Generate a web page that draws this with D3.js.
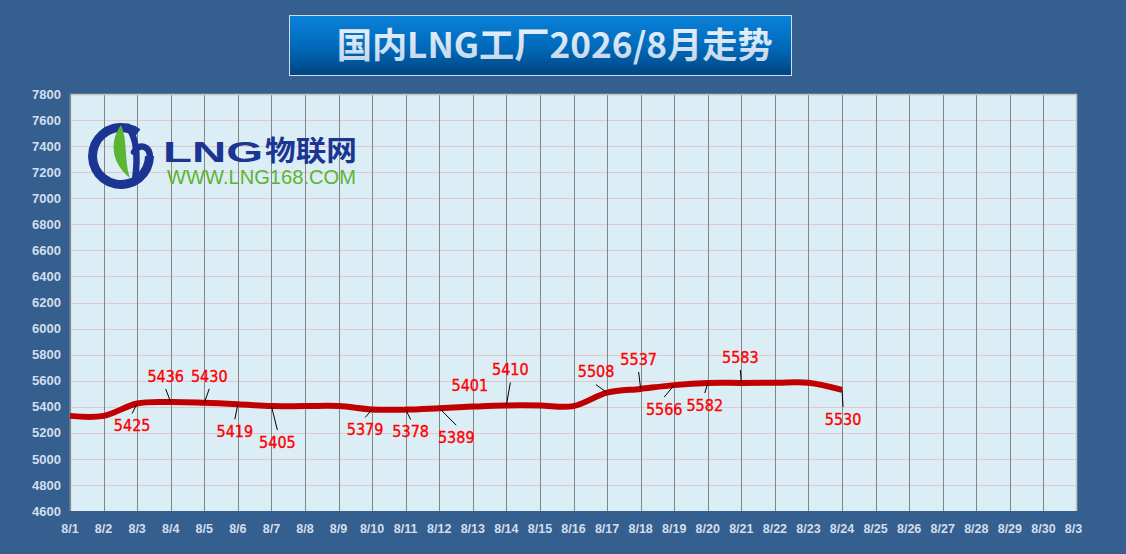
<!DOCTYPE html>
<html>
<head>
<meta charset="utf-8">
<script src="https://cdn.jsdelivr.net/npm/d3@7"></script>
<style>
  body { margin: 0; background: #355f8f; }
  svg { display: block; }
</style>
</head>
<body>
<svg id="chart" width="1126" height="554"></svg>
<script>
// ---- data ----
const dates = ["8/1","8/2","8/3","8/4","8/5","8/6","8/7","8/8","8/9","8/10",
  "8/11","8/12","8/13","8/14","8/15","8/16","8/17","8/18","8/19","8/20",
  "8/21","8/22","8/23","8/24","8/25","8/26","8/27","8/28","8/29","8/30","8/31"];
const prices = [5330, 5330, 5425, 5436, 5430, 5419, 5405, 5405, 5405, 5379,
  5378, 5389, 5401, 5410, 5410, 5405, 5508, 5537, 5566, 5582,
  5583, 5584, 5585, 5530];
const yTicks = [4600, 4800, 5000, 5200, 5400, 5600, 5800, 6000, 6200, 6400,
  6600, 6800, 7000, 7200, 7400, 7600, 7800];
const labelled = [false, false, true, true, true, true, true, false, false, true,
  true, true, true, true, false, false, true, true, true, true,
  true, false, false, true];

// where each value label sits relative to its point, in px (layout only)
const labelPlacement = [null, null, [-5, 22], [-5, -26], [5, -27], [-3, 27], [6, 36], null, null, [-7, 20],
  [5, 22], [17, 29], [-3, -21], [4, -36], null, null, [-11, -21], [-2, -30], [-10, 24], [-3, 22],
  [-1, -26], null, null, [1, 29]];

const title = "国内LNG工厂2026/8月走势";

const svg = d3.select("#chart");
const margin = { left: 70, right: 1077, top: 94, bottom: 511 };

const x = d3.scalePoint().domain(dates).range([margin.left, margin.right]);
const y = d3.scaleLinear().domain([4600, 7800]).range([margin.bottom, margin.top]);

const defs = svg.append("defs");

const titleGrad = defs.append("linearGradient").attr("id", "titleBg")
  .attr("x1", 0).attr("y1", 0).attr("x2", 0).attr("y2", 1);
titleGrad.append("stop").attr("offset", "0%").attr("stop-color", "#0a82da");
titleGrad.append("stop").attr("offset", "55%").attr("stop-color", "#0068b8");
titleGrad.append("stop").attr("offset", "100%").attr("stop-color", "#00447e");

const textGrad = defs.append("linearGradient").attr("id", "titleText")
  .attr("x1", 0).attr("y1", 0).attr("x2", 0).attr("y2", 1);
textGrad.append("stop").attr("offset", "0%").attr("stop-color", "#f2f7fc");
textGrad.append("stop").attr("offset", "100%").attr("stop-color", "#bcd2ea");

defs.append("clipPath").attr("id", "xClip")
  .append("rect").attr("x", 0).attr("y", 512).attr("width", 1083).attr("height", 42);

// background
svg.append("rect").attr("width", 1126).attr("height", 554).attr("fill", "#355f8f");

// title box
svg.append("rect")
  .attr("x", 289.5).attr("y", 15.5).attr("width", 502).attr("height", 60)
  .attr("fill", "url(#titleBg)")
  .attr("stroke", "#cfdcec").attr("stroke-width", 1);

svg.append("text")
  .attr("x", 554.7).attr("y", 58)
  .attr("text-anchor", "middle")
  .attr("font-family", "'Noto Sans CJK SC', 'Noto Sans', sans-serif")
  .attr("font-weight", "bold")
  .attr("font-size", 35)
  .attr("textLength", 436).attr("lengthAdjust", "spacingAndGlyphs")
  .attr("fill", "url(#titleText)")
  .text(title);

// plot area
svg.append("rect")
  .attr("x", margin.left).attr("y", margin.top)
  .attr("width", margin.right - margin.left).attr("height", margin.bottom - margin.top)
  .attr("fill", "#dbeef5");

// horizontal grid
svg.append("g")
  .selectAll("line")
  .data(yTicks.filter(v => v > 4600 && v < 7800))
  .join("line")
  .attr("x1", margin.left).attr("x2", margin.right)
  .attr("y1", d => Math.round(y(d)) + 0.5).attr("y2", d => Math.round(y(d)) + 0.5)
  .attr("stroke", "#e2c6d0").attr("stroke-width", 1);

// vertical grid
svg.append("g")
  .selectAll("line")
  .data(dates.slice(1, -1))
  .join("line")
  .attr("x1", d => Math.round(x(d)) + 0.5).attr("x2", d => Math.round(x(d)) + 0.5)
  .attr("y1", margin.top).attr("y2", margin.bottom)
  .attr("stroke", "#858585").attr("stroke-width", 1);

// plot border
svg.append("path")
  .attr("d", `M${margin.left + 0.5},${margin.bottom} V${margin.top + 0.5} H${margin.right - 0.5} V${margin.bottom}`)
  .attr("fill", "none").attr("stroke", "#c4c4c4").attr("stroke-width", 1.5);
svg.append("line")
  .attr("x1", margin.left + 0.5).attr("x2", margin.left + 0.5)
  .attr("y1", margin.top).attr("y2", margin.bottom)
  .attr("stroke", "#8a8a8a");

// ---- logo ----
const logo = svg.append("g");
const ring = d3.arc()
  .innerRadius(24).outerRadius(33)
  .startAngle(Math.PI * 0.5).endAngle(Math.PI * 2.2);
logo.append("path")
  .attr("transform", "translate(121,156)")
  .attr("d", ring())
  .attr("fill", "#1c3593");
// the "b" shaped swoosh inside the ring
logo.append("path")
  .attr("d", "M128,127 C137,138 138,158 135,180")
  .attr("fill", "none").attr("stroke", "#1c3593").attr("stroke-width", 6.5)
  .attr("stroke-linecap", "round");
logo.append("path")
  .attr("d", "M150,158 C150,145 139,143 134,152")
  .attr("fill", "none").attr("stroke", "#1c3593").attr("stroke-width", 6.5)
  .attr("stroke-linecap", "round");
logo.append("path")
  .attr("d", "M121,125 C110,140 110,162 130,178 C124,162 128,140 121,125 Z")
  .attr("fill", "#5ab534");
logo.append("text")
  .attr("x", 163).attr("y", 162)
  .attr("font-family", "'Liberation Sans', Arial, sans-serif")
  .attr("font-weight", "bold").attr("font-size", 29)
  .attr("textLength", 100).attr("lengthAdjust", "spacingAndGlyphs")
  .attr("fill", "#1c3593")
  .text("LNG");
logo.append("text")
  .attr("x", 265).attr("y", 161)
  .attr("font-family", "'Noto Sans CJK SC', sans-serif")
  .attr("font-weight", "bold").attr("font-size", 28)
  .attr("textLength", 92).attr("lengthAdjust", "spacingAndGlyphs")
  .attr("fill", "#1c3593")
  .text("物联网");
logo.append("text")
  .attr("x", 167).attr("y", 183.5)
  .attr("font-family", "'Liberation Sans', Arial, sans-serif")
  .attr("font-size", 19.5)
  .attr("textLength", 189).attr("lengthAdjust", "spacingAndGlyphs")
  .attr("fill", "#5cb531")
  .text("WWW.LNG168.COM");

// ---- axis labels ----
const axisFont = "'Liberation Sans', Arial, sans-serif";

svg.append("g")
  .selectAll("text")
  .data(yTicks)
  .join("text")
  .attr("x", 61).attr("y", d => y(d))
  .attr("dy", "0.36em")
  .attr("text-anchor", "end")
  .attr("font-family", axisFont).attr("font-weight", "bold").attr("font-size", 13)
  .attr("fill", "#d3deec")
  .text(d => d);

svg.append("g")
  .attr("clip-path", "url(#xClip)")
  .selectAll("text")
  .data(dates)
  .join("text")
  .attr("x", d => x(d)).attr("y", 528)
  .attr("dy", "0.36em")
  .attr("text-anchor", "middle")
  .attr("font-family", axisFont).attr("font-weight", "bold").attr("font-size", 12.5)
  .attr("fill", "#d3deec")
  .text(d => d);

// ---- price line ----
const points = prices.map((v, i) => ({ date: dates[i], value: v, place: labelPlacement[i], show: labelled[i] }));

const line = d3.line()
  .x(d => x(d.date))
  .y(d => y(d.value))
  .curve(d3.curveCardinal.tension(0));

svg.append("path")
  .datum(points)
  .attr("d", line)
  .attr("fill", "none")
  .attr("stroke", "#c00000")
  .attr("stroke-width", 6)
  .attr("stroke-linejoin", "round");

// ---- value labels with leader lines ----
const shown = points.filter(d => d.show);

shown.forEach(d => {
  const px = x(d.date), py = y(d.value);
  const lx = px + d.place[0], ly = py + d.place[1];
  const ey = d.place[1] < 0 ? ly + 13 : ly - 12;
  const len = Math.hypot(lx - px, ey - py);
  if (len > 9) {
    svg.append("line")
      .attr("x1", px).attr("y1", py)
      .attr("x2", lx).attr("y2", ey)
      .attr("stroke", "#000").attr("stroke-width", 1);
  }
});

svg.append("g")
  .selectAll("text")
  .data(shown)
  .join("text")
  .attr("x", d => x(d.date) + d.place[0])
  .attr("y", d => y(d.value) + d.place[1])
  .attr("dy", "0.36em")
  .attr("text-anchor", "middle")
  .attr("font-family", "'DejaVu Sans Condensed', 'DejaVu Sans', sans-serif")
  .attr("font-stretch", "condensed")
  .attr("font-size", 16)
  .attr("fill", "#ff0000")
  .attr("stroke", "#ff0000").attr("stroke-width", 0.35)
  .text(d => d.value);
</script>
</body>
</html>
